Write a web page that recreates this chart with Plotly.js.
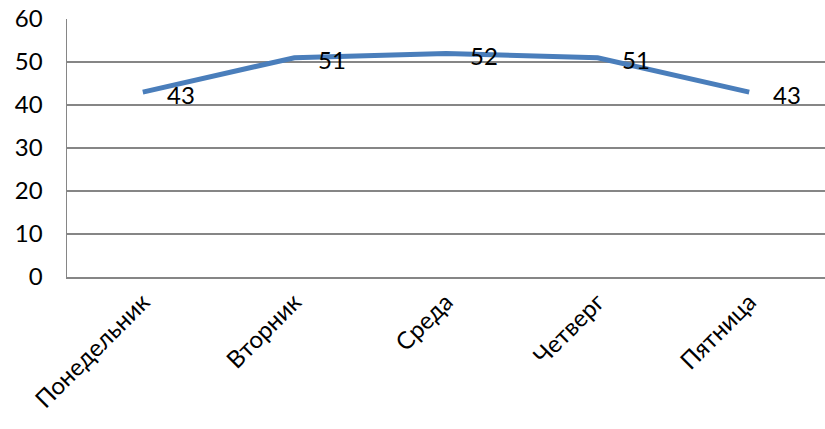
<!DOCTYPE html>
<html>
<head>
<meta charset="utf-8">
<script src="https://cdn.plot.ly/plotly-3.0.1.min.js"></script>
<style>html,body{margin:0;padding:0;background:#fff;}#chart{width:825px;height:429px;}</style>
</head>
<body>
<div id="chart"></div>
<script>
const categories = ["Понедельник", "Вторник", "Среда", "Четверг", "Пятница"];
const values = [43, 51, 52, 51, 43];
const yTicks = [0, 10, 20, 30, 40, 50, 60];

const FONT = "Lato, sans-serif";

const trace = {
  x: categories,
  y: values,
  type: "scatter",
  mode: "lines",
  line: {color: "#4a7ebb", width: 5},
  cliponaxis: false,
  hoverinfo: "skip"
};

const annotations = categories.map((c, i) => ({
  x: c, y: values[i], xref: "x", yref: "y",
  text: String(values[i]),
  showarrow: false,
  xanchor: "left", yanchor: "middle",
  xshift: 22, yshift: -2,
  font: {family: FONT, size: 24, color: "#000"}
}));

const layout = {
  width: 825, height: 429,
  margin: {l: 67, r: 0, t: 19, b: 152},
  paper_bgcolor: "#fff", plot_bgcolor: "#fff",
  showlegend: false,
  font: {family: FONT, size: 24, color: "#000"},
  annotations: annotations,
  xaxis: {
    type: "category",
    tickangle: -45,
    showgrid: false,
    showline: true, linecolor: "#868686", linewidth: 1.5,
    ticks: "",
    tickfont: {size: 24},
    range: [-0.5, 4.5]
  },
  yaxis: {
    range: [0, 60],
    tickvals: yTicks,
    ticktext: yTicks.map(String),
    showgrid: true, gridcolor: "#868686", gridwidth: 1.5,
    showline: true, linecolor: "#868686", linewidth: 1.5,
    zeroline: false,
    ticks: "",
    ticklabelstandoff: 18,
    tickfont: {size: 24}
  }
};

Plotly.newPlot("chart", [trace], layout, {staticPlot: true, displayModeBar: false});
</script>
</body>
</html>
